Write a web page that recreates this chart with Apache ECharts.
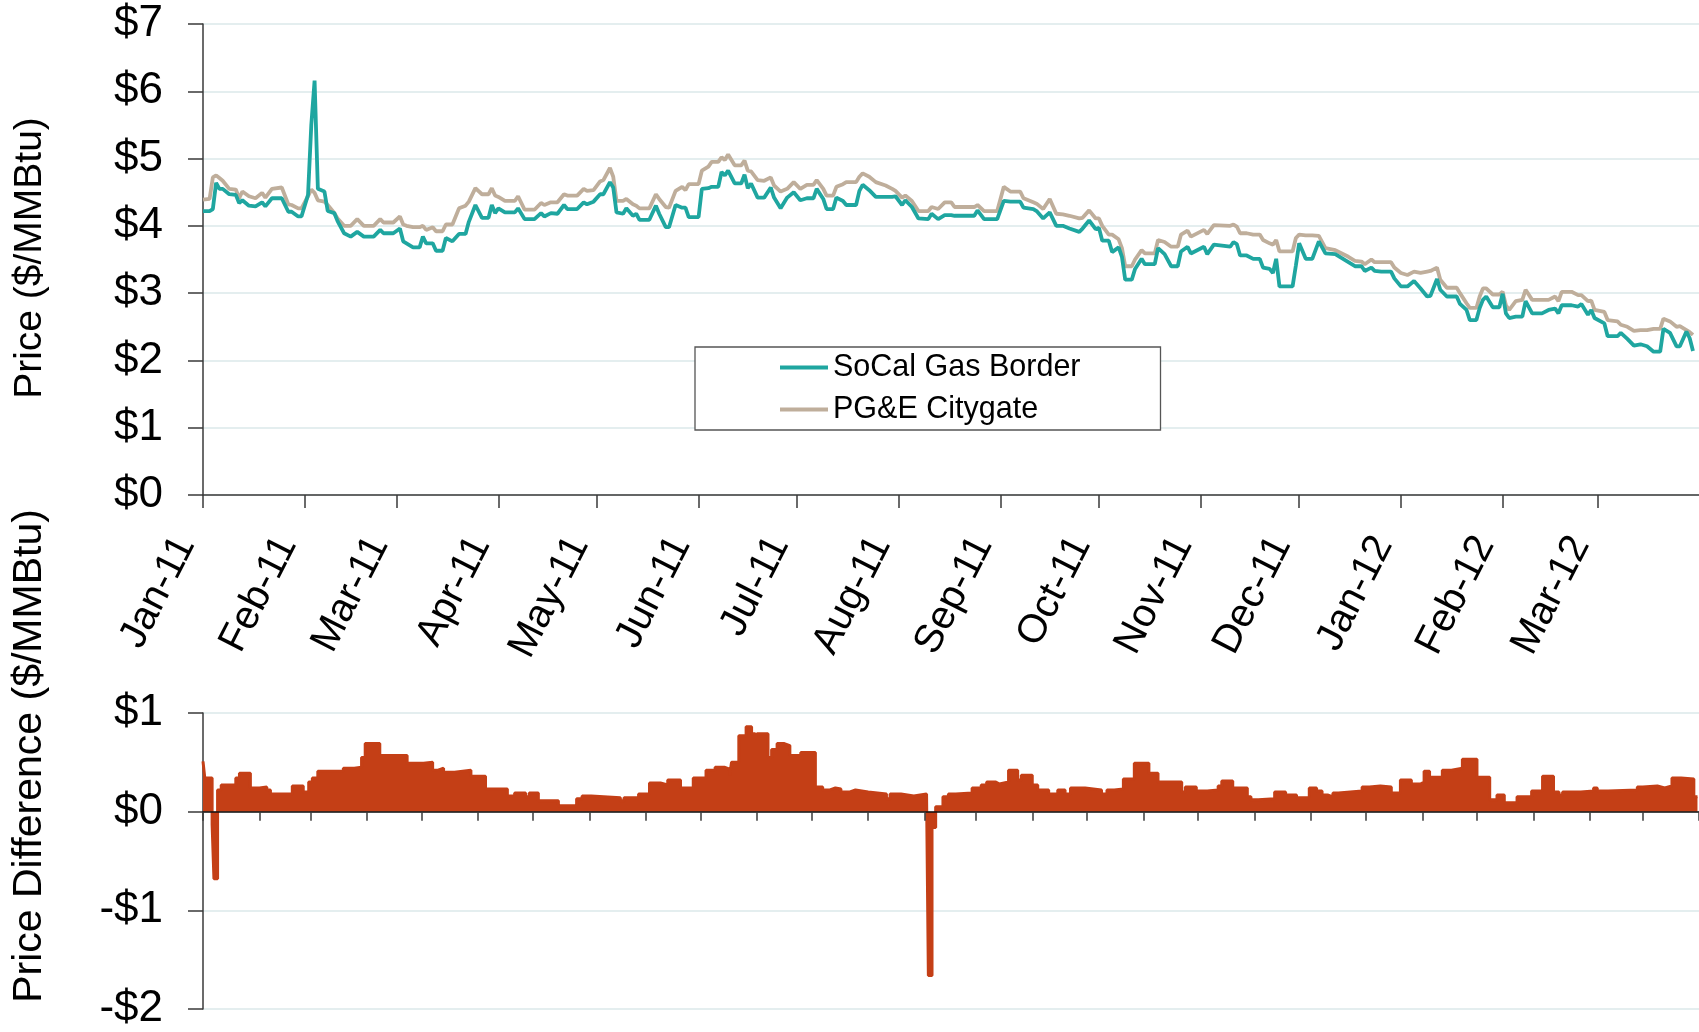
<html>
<head>
<meta charset="utf-8">
<title>SoCal Gas Border vs PG&E Citygate</title>
<script src="https://cdn.jsdelivr.net/npm/echarts@6.0.0/dist/echarts.min.js"></script>
<style>
  body { margin: 0; background: #fff; }
  #main { width: 1699px; height: 1032px; }
</style>
</head>
<body>
<div id="main"></div>
<script type="text/javascript">
// daily gas prices, $/MMBtu (one line per month)
var priceDates = [
  '2011-01-01','2011-01-03','2011-01-04','2011-01-05','2011-01-06','2011-01-07','2011-01-09','2011-01-11','2011-01-12','2011-01-13','2011-01-15','2011-01-17','2011-01-19','2011-01-20','2011-01-22','2011-01-25','2011-01-27','2011-01-28','2011-01-30','2011-01-31',
  '2011-02-02','2011-02-03','2011-02-04','2011-02-05','2011-02-07','2011-02-08','2011-02-10','2011-02-11','2011-02-13','2011-02-15','2011-02-17','2011-02-19','2011-02-22','2011-02-24','2011-02-25','2011-02-28',
  '2011-03-02','2011-03-03','2011-03-04','2011-03-06','2011-03-08','2011-03-09','2011-03-10','2011-03-12','2011-03-13','2011-03-15','2011-03-16','2011-03-18','2011-03-20','2011-03-22','2011-03-23','2011-03-25','2011-03-27','2011-03-29','2011-03-30','2011-03-31',
  '2011-04-01','2011-04-03','2011-04-06','2011-04-07','2011-04-09','2011-04-12','2011-04-14','2011-04-15','2011-04-17','2011-04-19','2011-04-21','2011-04-22','2011-04-25','2011-04-27','2011-04-28','2011-04-30',
  '2011-05-02','2011-05-03','2011-05-05','2011-05-06','2011-05-07','2011-05-09','2011-05-10','2011-05-12','2011-05-13','2011-05-14','2011-05-17','2011-05-19','2011-05-20','2011-05-22','2011-05-23','2011-05-25','2011-05-27','2011-05-28','2011-05-29',
  '2011-06-01','2011-06-02','2011-06-04','2011-06-05','2011-06-07','2011-06-08','2011-06-09','2011-06-10','2011-06-12','2011-06-14','2011-06-15','2011-06-16','2011-06-17','2011-06-19','2011-06-21','2011-06-23','2011-06-24','2011-06-26','2011-06-28','2011-06-30',
  '2011-07-02','2011-07-04','2011-07-06','2011-07-07','2011-07-09','2011-07-10','2011-07-12','2011-07-13','2011-07-15','2011-07-16','2011-07-19','2011-07-20','2011-07-21','2011-07-23','2011-07-25','2011-07-28','2011-07-30','2011-07-31',
  '2011-08-02','2011-08-03','2011-08-05','2011-08-07','2011-08-10','2011-08-11','2011-08-13','2011-08-15','2011-08-17','2011-08-18','2011-08-24','2011-08-25','2011-08-27','2011-08-31',
  '2011-09-02','2011-09-04','2011-09-07','2011-09-08','2011-09-11','2011-09-12','2011-09-14','2011-09-16','2011-09-18','2011-09-20','2011-09-22','2011-09-25','2011-09-26','2011-09-28','2011-09-30',
  '2011-10-01','2011-10-02','2011-10-04','2011-10-05','2011-10-07','2011-10-08','2011-10-09','2011-10-11','2011-10-12','2011-10-14','2011-10-15','2011-10-18','2011-10-19','2011-10-21','2011-10-23','2011-10-25','2011-10-26','2011-10-28','2011-10-29',
  '2011-11-02','2011-11-03','2011-11-05','2011-11-10','2011-11-11','2011-11-12','2011-11-13','2011-11-15','2011-11-17','2011-11-19','2011-11-20','2011-11-22','2011-11-23','2011-11-24','2011-11-25','2011-11-29','2011-11-30',
  '2011-12-01','2011-12-03','2011-12-05','2011-12-07','2011-12-09','2011-12-12','2011-12-14','2011-12-16','2011-12-18','2011-12-20','2011-12-21','2011-12-23','2011-12-24','2011-12-26','2011-12-29','2011-12-30',
  '2012-01-01','2012-01-03','2012-01-05','2012-01-07','2012-01-09','2012-01-10','2012-01-12','2012-01-13','2012-01-15','2012-01-18','2012-01-19','2012-01-21','2012-01-22','2012-01-24','2012-01-25','2012-01-26','2012-01-27','2012-01-29','2012-01-31',
  '2012-02-01','2012-02-02','2012-02-03','2012-02-05','2012-02-07','2012-02-08','2012-02-10','2012-02-13','2012-02-15','2012-02-17','2012-02-18','2012-02-19','2012-02-22','2012-02-24','2012-02-25','2012-02-27','2012-02-28','2012-02-29',
  '2012-03-03','2012-03-04','2012-03-07','2012-03-08','2012-03-10','2012-03-12','2012-03-14','2012-03-16','2012-03-18','2012-03-20','2012-03-21','2012-03-23','2012-03-25','2012-03-26','2012-03-28','2012-03-29','2012-03-30'
];
var socal = [
  4.22,4.22,4.25,4.64,4.55,4.55,4.47,4.46,4.34,4.38,4.30,4.29,4.35,4.29,4.41,4.41,4.21,4.21,4.14,4.14,
  4.46,5.50,6.16,4.55,4.51,4.22,4.19,4.07,3.89,3.84,3.91,3.84,3.84,3.94,3.89,3.89,
  3.96,3.77,3.74,3.68,3.68,3.84,3.74,3.74,3.63,3.63,3.82,3.77,3.88,3.88,4.06,4.31,4.12,4.12,4.31,4.19,
  4.26,4.20,4.20,4.26,4.10,4.10,4.19,4.14,4.19,4.18,4.31,4.25,4.25,4.35,4.32,4.36,
  4.47,4.47,4.65,4.57,4.20,4.18,4.26,4.15,4.18,4.09,4.09,4.30,4.18,3.98,3.98,4.31,4.27,4.27,4.13,
  4.13,4.55,4.56,4.58,4.58,4.80,4.75,4.82,4.63,4.63,4.76,4.56,4.63,4.42,4.42,4.57,4.42,4.26,4.42,4.50,
  4.38,4.41,4.41,4.55,4.40,4.25,4.25,4.42,4.37,4.31,4.31,4.52,4.61,4.53,4.43,4.43,4.43,4.44,
  4.31,4.38,4.28,4.11,4.10,4.18,4.10,4.16,4.16,4.15,4.15,4.23,4.10,4.10,
  4.37,4.36,4.36,4.27,4.25,4.22,4.11,4.20,4.00,4.00,3.96,3.91,3.96,4.08,3.95,
  3.97,3.78,3.78,3.61,3.68,3.54,3.20,3.20,3.36,3.51,3.43,3.43,3.67,3.58,3.40,3.40,3.62,3.69,3.59,
  3.69,3.58,3.72,3.69,3.76,3.73,3.56,3.56,3.51,3.51,3.38,3.36,3.30,3.51,3.10,3.10,3.41,
  3.74,3.51,3.51,3.77,3.59,3.58,3.52,3.46,3.40,3.40,3.33,3.38,3.33,3.32,3.32,3.22,
  3.10,3.10,3.18,3.07,2.95,2.96,3.21,3.05,2.95,2.95,2.84,2.75,2.60,2.60,2.78,2.90,2.95,2.79,2.79,
  2.99,2.70,2.63,2.65,2.65,2.88,2.70,2.70,2.75,2.77,2.70,2.82,2.82,2.80,2.84,2.68,2.75,2.63,
  2.55,2.36,2.36,2.41,2.32,2.22,2.24,2.21,2.13,2.13,2.47,2.41,2.21,2.21,2.43,2.33,2.14
];
var pge = [
  4.39,4.40,4.72,4.75,4.71,4.67,4.55,4.54,4.41,4.51,4.44,4.41,4.49,4.42,4.55,4.57,4.32,4.31,4.26,4.26,
  4.44,4.54,4.49,4.38,4.36,4.31,4.19,4.11,4.00,4.00,4.10,4.00,4.00,4.10,4.05,4.05,
  4.14,4.02,4.00,3.98,3.98,4.00,3.94,3.98,3.92,3.92,4.02,4.02,4.26,4.30,4.36,4.56,4.47,4.47,4.56,4.45,
  4.43,4.37,4.37,4.44,4.24,4.24,4.34,4.31,4.35,4.35,4.47,4.45,4.45,4.55,4.52,4.53,
  4.66,4.68,4.86,4.73,4.37,4.37,4.40,4.32,4.30,4.26,4.26,4.47,4.40,4.28,4.27,4.52,4.58,4.53,4.62,
  4.62,4.82,4.88,4.95,4.95,5.02,4.98,5.06,4.90,4.90,4.97,4.82,4.81,4.68,4.67,4.72,4.60,4.51,4.55,4.65,
  4.55,4.61,4.61,4.68,4.55,4.45,4.45,4.58,4.62,4.65,4.65,4.73,4.78,4.73,4.65,4.60,4.55,4.52,
  4.42,4.45,4.37,4.22,4.22,4.28,4.25,4.35,4.35,4.28,4.28,4.31,4.22,4.22,
  4.58,4.51,4.51,4.41,4.35,4.33,4.25,4.40,4.18,4.17,4.15,4.11,4.12,4.23,4.11,
  4.11,4.00,3.87,3.87,3.80,3.67,3.40,3.40,3.50,3.64,3.59,3.59,3.79,3.76,3.69,3.69,3.87,3.93,3.84,
  3.94,3.88,4.01,4.00,4.02,3.99,3.89,3.89,3.87,3.87,3.79,3.74,3.72,3.79,3.62,3.62,3.82,
  3.87,3.86,3.86,3.85,3.67,3.64,3.59,3.54,3.48,3.47,3.43,3.50,3.46,3.46,3.46,3.38,
  3.30,3.27,3.32,3.30,3.32,3.33,3.38,3.20,3.08,3.08,3.00,2.85,2.78,2.78,2.95,3.07,3.07,2.98,2.98,
  3.02,2.82,2.75,2.88,2.90,3.05,2.90,2.90,2.90,2.95,2.88,3.02,3.02,2.97,2.97,2.88,2.89,2.75,
  2.72,2.60,2.58,2.53,2.50,2.44,2.45,2.45,2.47,2.47,2.62,2.58,2.50,2.51,2.45,2.42,2.38
];

// PG&E minus SoCal, each value holds until the next date
var diffDates = [
  '2010-01-01','2010-01-02','2010-01-06','2010-01-07','2010-01-09','2010-01-11','2010-01-19','2010-01-21','2010-01-27',
  '2010-02-01','2010-02-05','2010-02-07','2010-02-19','2010-02-25','2010-02-28',
  '2010-03-02','2010-03-05','2010-03-19','2010-03-25','2010-03-29','2010-03-31',
  '2010-04-08','2010-04-23',
  '2010-05-02','2010-05-07','2010-05-10','2010-05-13','2010-05-19','2010-05-28',
  '2010-06-05','2010-06-17','2010-06-21','2010-06-27','2010-06-29',
  '2010-07-04','2010-07-15','2010-07-25','2010-07-28',
  '2010-08-02','2010-08-18','2010-08-20','2010-08-28',
  '2010-09-03','2010-09-09','2010-09-13','2010-09-20','2010-09-27',
  '2010-10-04','2010-10-09','2010-10-14','2010-10-17','2010-10-18','2010-10-22','2010-10-26','2010-10-29','2010-10-31',
  '2010-11-01','2010-11-07','2010-11-09','2010-11-12','2010-11-16','2010-11-19','2010-11-25',
  '2010-12-03','2010-12-07','2010-12-11','2010-12-14','2010-12-17','2010-12-22','2010-12-25',
  '2011-01-01','2011-01-11','2011-01-13','2011-01-19','2011-01-26',
  '2011-02-02','2011-02-03','2011-02-05','2011-02-07','2011-02-11','2011-02-14','2011-02-18','2011-02-27',
  '2011-03-04','2011-03-07','2011-03-12','2011-03-14','2011-03-19','2011-03-24','2011-03-26',
  '2011-04-01','2011-04-04','2011-04-10','2011-04-15','2011-04-19','2011-04-22','2011-04-30',
  '2011-05-09','2011-05-12','2011-05-16','2011-05-21','2011-05-27',
  '2011-06-04','2011-06-09','2011-06-22','2011-06-24','2011-06-30',
  '2011-07-06','2011-07-12','2011-07-14','2011-07-20','2011-07-28','2011-07-30',
  '2011-08-03','2011-08-12','2011-08-18','2011-08-24','2011-08-31',
  '2011-09-04','2011-09-07','2011-09-10','2011-09-13','2011-09-16','2011-09-29',
  '2011-10-03','2011-10-09','2011-10-15','2011-10-20','2011-10-26','2011-10-31',
  '2011-11-02','2011-11-05','2011-11-12','2011-11-17','2011-11-23',
  '2011-12-01','2011-12-08','2011-12-12','2011-12-16','2011-12-23','2011-12-31',
  '2012-01-06','2012-01-12','2012-01-15','2012-01-17','2012-01-27',
  '2012-02-03','2012-02-05','2012-02-11','2012-02-27',
  '2012-03-01','2012-03-09','2012-03-13','2012-03-17','2012-03-22','2012-03-29','2012-03-31'
];
var diffValues = [
  0.51,0.34,-0.13,-0.68,0.22,0.27,0.34,0.39,0.24,
  0.25,0.22,0.18,0.26,0.20,0.30,
  0.34,0.41,0.44,0.45,0.55,0.69,
  0.57,0.49,
  0.50,0.42,0.44,0.40,0.42,0.36,
  0.23,0.16,0.19,0.15,0.19,
  0.11,0.06,0.13,0.16,
  0.14,0.11,0.14,0.18,
  0.29,0.27,0.32,0.24,0.34,
  0.42,0.45,0.43,0.37,0.50,0.77,0.86,0.79,0.74,
  0.79,0.55,0.63,0.69,0.67,0.57,0.60,
  0.25,0.22,0.24,0.23,0.20,0.22,0.20,
  0.18,0.13,0.18,0.16,0.18,
  0.16,-1.66,-0.16,0.05,0.15,0.18,0.19,0.24,
  0.27,0.30,0.28,0.30,0.42,0.32,0.37,
  0.27,0.22,0.18,0.22,0.18,0.24,0.22,
  0.18,0.22,0.23,0.33,0.49,
  0.39,0.30,0.20,0.25,0.21,
  0.22,0.26,0.31,0.24,0.15,0.12,
  0.13,0.20,0.17,0.14,0.24,
  0.21,0.17,0.15,0.19,0.21,0.25,
  0.26,0.25,0.19,0.32,0.28,0.30,
  0.41,0.35,0.42,0.44,0.53,
  0.35,0.12,0.17,0.09,0.15,0.21,
  0.36,0.20,0.17,0.20,0.21,
  0.24,0.21,0.22,0.25,
  0.26,0.24,0.26,0.34,0.33,0.15,0.15
];

var priceTicks = [0, 1, 2, 3, 4, 5, 6, 7];
var diffTicks = [-2, -1, 0, 1];
var monthNames = ['Jan','Feb','Mar','Apr','May','Jun','Jul','Aug','Sep','Oct','Nov','Dec'];

var font = '"Liberation Sans", Arial, sans-serif';
var axisColor = '#3a3a3a';
var gridColor = '#dbe8ea';
var DAY = 24 * 3600 * 1000;

function monthLabel(v) {
  var d = new Date(v);
  return monthNames[d.getMonth()] + '-' + String(d.getFullYear()).slice(2);
}
function dollar(v) {
  return v < 0 ? '-$' + (-v) : '$' + v;
}

var myChart = echarts.init(document.getElementById('main'), null, { renderer: 'canvas' });

var option = {
  animation: false,
  backgroundColor: '#fff',
  textStyle: { fontFamily: font },
  grid: [
    { left: 203, right: 0, top: 24, height: 471 },
    { left: 203, right: 0, top: 713, height: 296 }
  ],
  legend: {
    data: ['SoCal Gas Border', 'PG&E Citygate'],
    orient: 'vertical',
    left: 695,
    top: 347,
    padding: [5, 80, 5, 85],
    itemGap: 11,
    itemWidth: 48,
    itemHeight: 4,
    icon: 'rect',
    borderColor: '#555',
    borderWidth: 1.3,
    backgroundColor: '#fff',
    textStyle: { fontSize: 30.5, color: '#000', fontFamily: font }
  },
  graphic: [
    {
      type: 'text', x: 30, y: 258, rotation: Math.PI / 2,
      style: { text: 'Price ($/MMBtu)', fontSize: 39, fontFamily: font, fill: '#000',
        align: 'center', verticalAlign: 'middle', textAlign: 'center', textVerticalAlign: 'middle' }
    },
    {
      type: 'text', x: 30, y: 756, rotation: Math.PI / 2,
      style: { text: 'Price Difference ($/MMBtu)', fontSize: 41, fontFamily: font, fill: '#000',
        align: 'center', verticalAlign: 'middle', textAlign: 'center', textVerticalAlign: 'middle' }
    }
  ],
  xAxis: [
    {
      type: 'time', gridIndex: 0,
      min: '2011-01-01', max: '2012-03-31 20:00',
      minInterval: 28 * DAY, maxInterval: 31 * DAY,
      splitLine: { show: false },
      axisLine: { lineStyle: { color: axisColor, width: 1.5 } },
      axisTick: { length: 13, lineStyle: { color: axisColor, width: 1.5 } },
      axisLabel: { rotate: 63, fontSize: 40, color: '#000', margin: 53,
        align: 'right', verticalAlign: 'bottom', formatter: monthLabel }
    },
    {
      type: 'time', gridIndex: 1, z: 10,
      min: '2010-01-01', max: '2012-03-31 20:00',
      minInterval: 28 * DAY, maxInterval: 31 * DAY,
      splitLine: { show: false },
      axisLine: { onZero: true, lineStyle: { color: '#111', width: 1.5 } },
      axisTick: { length: 9, lineStyle: { color: axisColor, width: 1.5 } },
      axisLabel: { show: false }
    }
  ],
  yAxis: [
    {
      type: 'value', gridIndex: 0,
      min: priceTicks[0], max: priceTicks[priceTicks.length - 1], interval: 1,
      axisLine: { show: true, lineStyle: { color: axisColor, width: 1.5 } },
      axisTick: { show: true, length: 15, lineStyle: { color: axisColor, width: 1.5 } },
      axisLabel: { fontSize: 44, color: '#000', margin: 40, formatter: dollar },
      splitLine: { lineStyle: { color: gridColor, width: 1.5 } }
    },
    {
      type: 'value', gridIndex: 1,
      min: diffTicks[0], max: diffTicks[diffTicks.length - 1], interval: 1,
      axisLine: { show: true, lineStyle: { color: axisColor, width: 1.5 } },
      axisTick: { show: true, length: 15, lineStyle: { color: axisColor, width: 1.5 } },
      axisLabel: { fontSize: 44, color: '#000', margin: 40, formatter: dollar },
      splitLine: { lineStyle: { color: gridColor, width: 1.5 } }
    }
  ],
  series: [
    {
      name: 'PG&E Citygate', type: 'line', xAxisIndex: 0, yAxisIndex: 0,
      data: priceDates.map(function (d, i) { return [d, pge[i]]; }),
      symbol: 'none', z: 2,
      lineStyle: { color: '#bfae9b', width: 3.8 },
      itemStyle: { color: '#bfae9b' }
    },
    {
      name: 'SoCal Gas Border', type: 'line', xAxisIndex: 0, yAxisIndex: 0,
      data: priceDates.map(function (d, i) { return [d, socal[i]]; }),
      symbol: 'none', z: 3,
      lineStyle: { color: '#1fa6a0', width: 3.8 },
      itemStyle: { color: '#1fa6a0' }
    },
    {
      name: 'Price Difference', type: 'line', xAxisIndex: 1, yAxisIndex: 1,
      step: 'end',
      data: diffDates.map(function (d, i) { return [d, diffValues[i]]; }),
      symbol: 'none',
      lineStyle: { color: '#c43f16', width: 3 },
      areaStyle: { color: '#c43f16', opacity: 1 },
      itemStyle: { color: '#c43f16' }
    }
  ]
};
myChart.setOption(option);
</script>
</body>
</html>
